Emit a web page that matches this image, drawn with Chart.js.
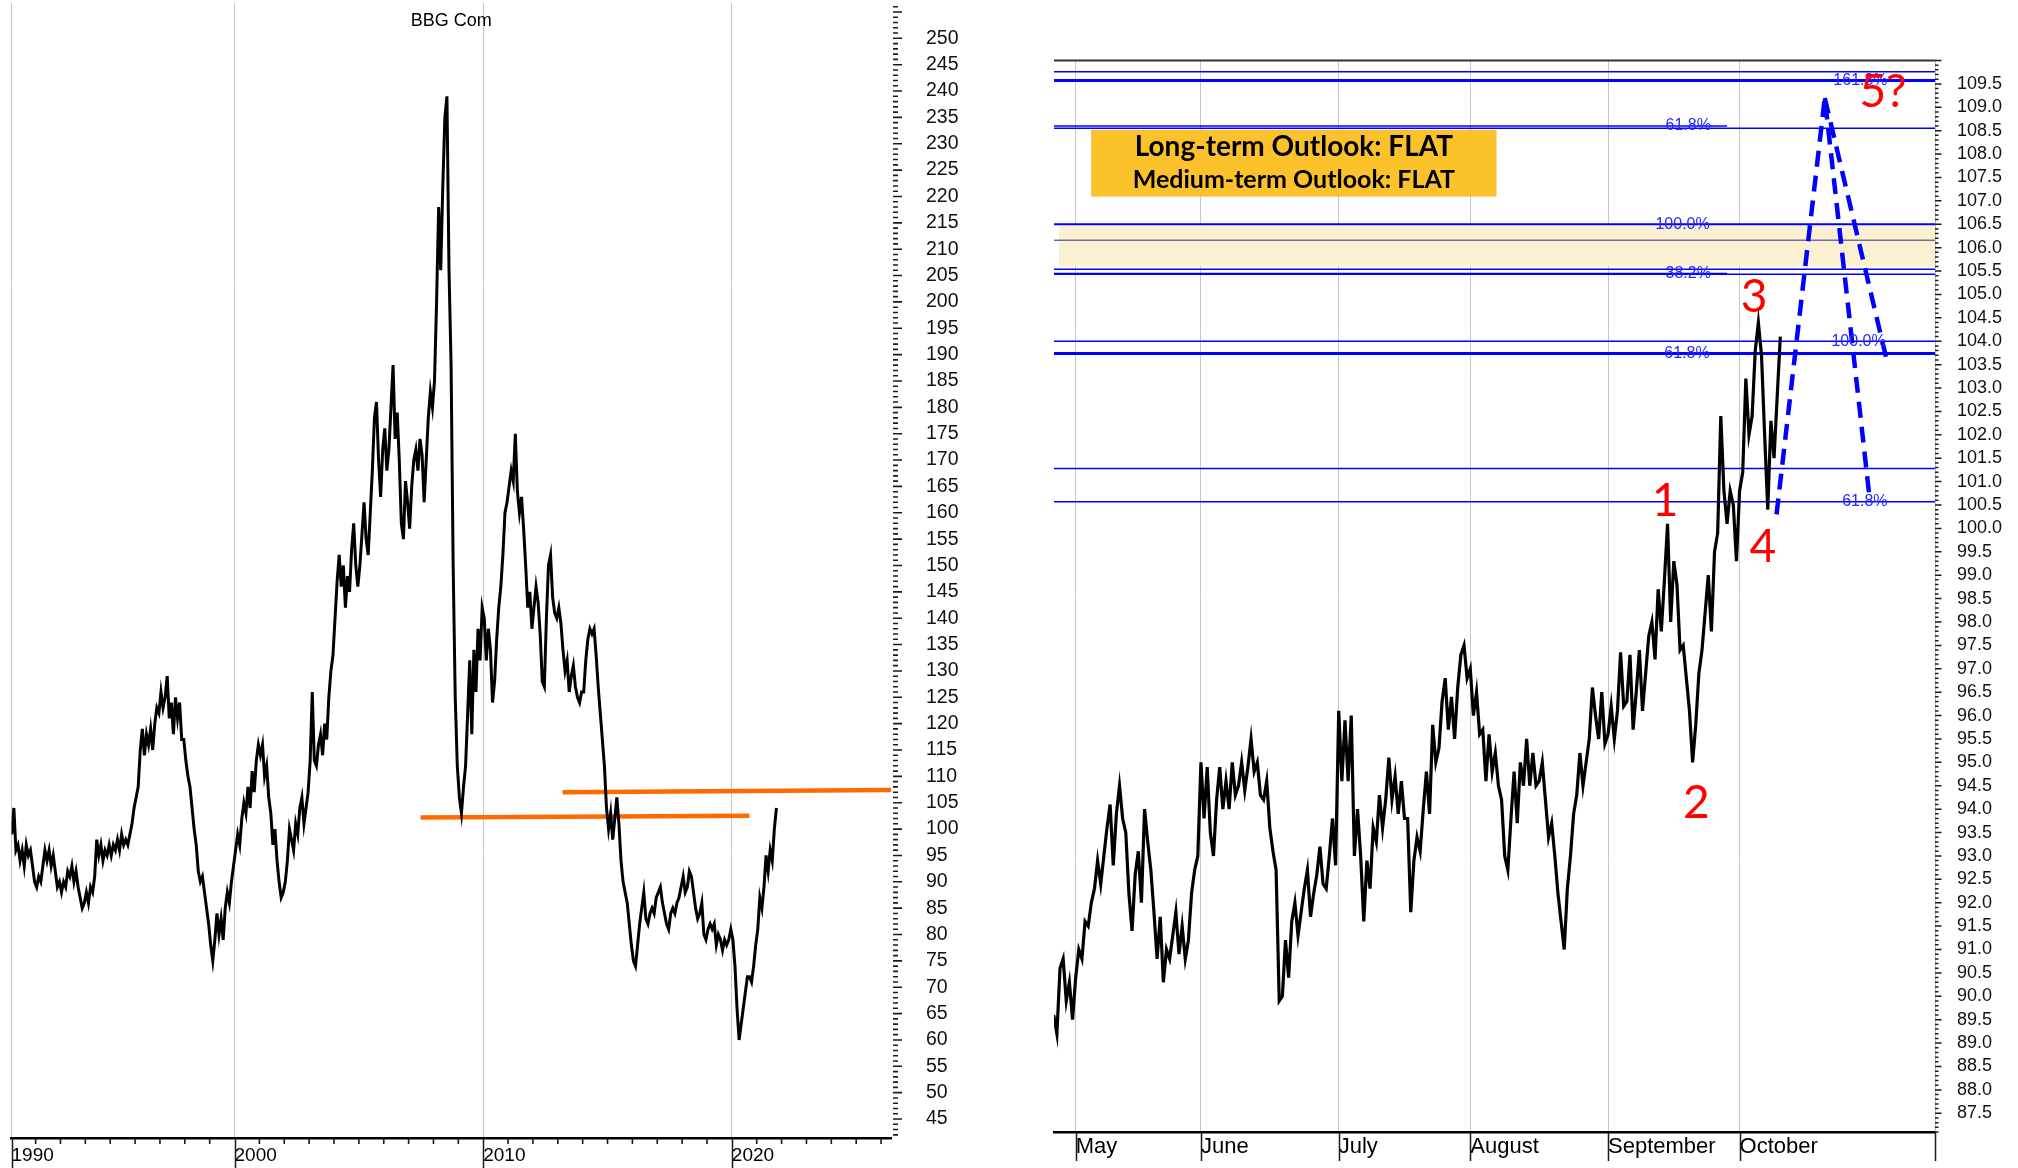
<!DOCTYPE html>
<html>
<head>
<meta charset="utf-8">
<title>BBG Com</title>
<script src="https://cdn.jsdelivr.net/npm/chart.js@4.4.1/dist/chart.umd.min.js"></script>
<style>
  html, body { margin: 0; padding: 0; background: #fff; }
  #wrap { position: relative; width: 2018px; height: 1168px; overflow: hidden; }
  #leftBox { position: absolute; left: 0; top: 0; width: 1000px; height: 1168px; }
  #rightBox { position: absolute; left: 1000px; top: 0; width: 1018px; height: 1168px; }
</style>
</head>
<body>
<div id="wrap">
  <div id="leftBox"><canvas id="longTerm"></canvas></div>
  <div id="rightBox"><canvas id="shortTerm"></canvas></div>
</div>
<script>
// ---------- Long-term panel: BBG Com, monthly closes Jan 1991 – Oct 2021 ----------
const bbg1990s = [
  99, 104, 96, 97, 94, 96, 93, 97, 95, 96, 93, 90,
  89, 91, 90, 93, 96, 94, 96, 93, 95, 92, 89, 90,
  88, 90, 89, 92, 91, 93, 90, 92, 89, 87, 85, 86,
  88, 86, 89, 88, 91, 98, 95, 97, 94, 96, 95, 97,
  95, 97, 96, 98, 96, 99, 97, 98, 97, 99, 101, 104,
  106, 108, 115, 119, 114, 118, 116, 119, 115, 120, 123, 122,
  126, 123, 125, 129, 121, 124, 118, 125, 121, 124, 117, 117,
  113, 110, 108, 104, 100, 97, 92, 90, 91, 88, 85, 82,
  78, 75, 79, 84, 80, 83, 79, 85, 88, 86, 90, 93
];
const bbg2000s = [
  96, 99, 97, 102, 105, 103, 108, 104, 111, 107, 113, 116,
  114, 116, 110, 112, 106, 103, 97, 100, 94, 90, 87, 88,
  90, 94, 100, 98, 96, 101, 99, 104, 106, 101, 104, 107,
  113, 126, 113, 112, 116, 118, 114, 120, 117, 125, 130, 133,
  140, 147, 152, 146, 150, 142, 148, 145, 153, 158, 150, 146,
  150, 156, 162, 155, 152, 160, 168, 178, 181, 170, 163, 172,
  176, 168, 172, 180, 188, 174, 179, 170, 158, 155, 166, 162,
  157, 165, 170, 172, 168, 174, 171, 162, 170, 178, 183, 180,
  185, 200, 218, 206, 222, 235, 239, 206, 188, 150, 125, 112,
  106, 103, 108, 112, 122, 132, 118, 134, 126, 138, 132, 142
];
const bbg2010s = [
  140, 132, 138, 134, 124, 128, 136, 142, 146, 152, 160, 162,
  165, 168, 166, 175, 164, 160, 163, 157, 150, 142, 145, 138,
  142, 146, 143, 137, 128, 127, 140, 150, 152, 144, 141, 140,
  142, 139, 134, 130, 132, 126, 129, 131, 127, 125, 124, 126,
  126, 132, 136, 138, 137, 138, 133, 127, 122, 117, 112, 104,
  100, 103, 98, 102, 106, 101, 94, 90, 88, 86, 82, 78,
  75, 74, 78, 82, 85, 88, 83, 82, 84, 85, 84, 87,
  88, 89, 86, 84, 82, 81, 84, 85, 84, 86, 87, 89,
  91, 88, 89, 92, 91, 88, 85, 83, 84, 86, 80, 79,
  81, 82, 81, 82, 78, 80, 79, 77, 79, 78, 79, 81
];
const bbg2020s = [
  79, 74, 66, 60, 63, 66, 69, 72, 72, 71, 74, 78,
  81, 87, 85, 89, 95, 92, 96, 94, 100, 104
];
const decadeTicks = [2000, 2010, 2020];
const decadeLabels = ['1990', '2000', '2010', '2020'];
// horizontal support / resistance drawn in orange: [year, level]
const supportLine = [[2007.48, 102.2], [2020.71, 102.55]];
const resistanceLine = [[2013.19, 106.97], [2026.4, 107.4]];

// ---------- Short-term panel: two prints per trading session, late April – mid October ----------
const monthLabels = ['May', 'June', 'July', 'August', 'September', 'October'];
const monthStarts = [0, 20, 42, 63, 85, 106]; // session index of each month's first session
const aprTail = [90.5, 89.6, 89.2, 90.6, 90.8, 89.9, 90.3, 89.5];
const mayBars = [
  90.4, 91.0, 90.8, 91.6, 91.5, 92.0, 92.3, 92.9, 92.4, 93.0,
  93.6, 94.1, 92.8, 93.9, 94.5, 93.8, 93.5, 92.2, 91.4, 92.6,
  93.1, 92.0, 94.0, 93.3, 92.7, 91.8, 90.8, 91.7, 90.3, 91.0,
  90.8, 91.3, 91.8, 90.9, 91.5, 90.8, 91.2, 92.2, 92.7, 93.0
];
const junBars = [
  95.0, 93.8, 94.9, 93.5, 93.0, 94.2, 94.9, 94.0, 94.6, 94.0,
  95.0, 94.3, 94.5, 95.0, 94.4, 94.9, 95.5, 94.8, 95.0, 94.3,
  94.2, 94.6, 93.6, 93.1, 92.7, 89.9, 90.0, 91.2, 90.4, 91.6,
  92.0, 91.3, 91.8, 92.3, 92.7, 91.7, 92.2, 92.6, 93.2, 92.4,
  92.3, 93.0, 93.8, 92.8
];
const julBars = [
  96.1, 94.6, 95.9, 94.6, 96.0, 93.0, 94.0, 93.0, 91.6, 92.9,
  92.3, 93.6, 93.3, 94.3, 93.6, 94.2, 95.1, 94.2, 94.7, 93.9,
  94.6, 93.8, 93.8, 91.8, 92.9, 93.4, 93.1, 94.0, 94.8, 93.9,
  95.8, 95.0, 95.3, 96.3, 96.8, 95.7, 96.4, 95.5, 96.6, 97.3,
  97.5, 96.8
];
const augBars = [
  97.0, 96.0, 96.5, 95.6, 95.7, 94.6, 95.6, 94.8, 95.2, 94.5,
  94.2, 93.0, 92.7, 93.8, 94.8, 93.7, 95.0, 94.5, 95.5, 94.5,
  95.2, 94.5, 94.6, 95.0, 94.2, 93.4, 93.7, 93.0, 92.2, 91.6,
  91.0, 92.3, 93.0, 93.9, 94.3, 95.2, 94.5, 95.0, 95.5, 96.6,
  96.0, 95.5, 96.5, 95.4
];
const sepBars = [
  95.6, 96.2, 95.5, 96.1, 97.35, 96.2, 96.3, 97.3, 95.7, 96.5,
  97.4, 96.1, 96.9, 97.7, 98.0, 97.2, 98.7, 97.8, 98.9, 100.1,
  98.0, 99.3, 98.8, 97.4, 97.5, 96.8, 96.1, 95.0, 95.8, 96.9,
  97.4, 98.2, 99.0, 97.8, 99.5, 99.9, 102.4, 100.8, 100.1, 100.8,
  100.5, 99.3
];
const octBars = [
  100.8, 101.2, 103.2, 102.0, 102.4, 103.8, 104.4, 103.7, 102.0, 100.4,
  102.3, 101.5, 102.8, 104.1
];
const firstSession = -4;

// full-width horizontal levels, and retracement levels that stop at the label
const levelLines = [109.76, 109.57, 108.55, 106.50, 106.16, 105.54, 105.43, 104.00, 103.74, 101.28, 100.57];
const levelWidths = [1.5, 3, 1.5, 2, 1.5, 1.5, 1.5, 1.5, 3, 1.5, 1.5];
const retraceLines = [108.60, 105.45];
const fibLabels = ['161.8%', '61.8%', '100.0%', '38.2%', '100.0%', '61.8%', '61.8%'];
const fibLabelLevels = [109.57, 108.60, 106.50, 105.45, 104.00, 103.74, 100.57];
const fibLabelSessions = [125.3, 97.8, 96.9, 97.8, 125.0, 97.6, 126.0];
const targetZone = [105.6, 106.47];
// projected wave-5 path and its alternative
const projSessions = [111.9, 119.6, 126.7];
const projValues = [100.3, 109.2, 100.72];
const altSessions = [119.6, 129.4];
const altValues = [109.2, 103.65];
// wave count
const waveNames = ['1', '2', '3', '4', '5?'];
const waveSessions = [94.1, 99.1, 108.3, 109.7, 128.9];
const waveValues = [100.58, 94.13, 104.94, 99.59, 109.32];
const outlookLines = ['Long-term Outlook: FLAT', 'Medium-term Outlook: FLAT'];

// ---------- helpers ----------
function series(arrays, start, step) {
  const out = [];
  let i = 0;
  arrays.forEach(a => a.forEach(v => { out.push({ x: start + i * step, y: v }); i++; }));
  return out;
}
function seg(p) { return p.map(([x, y]) => ({ x, y })); }
function hline(y, x0, x1) { return [{ x: x0, y }, { x: x1, y }]; }
const SANS = '"Liberation Sans", Arial, sans-serif';

// tick marks on the value axis, minor time ticks and separators below the time axis
const axisMarks = {
  id: 'axisMarks',
  afterDraw(chart, args, o) {
    const { ctx, chartArea: a } = chart;
    const xs = chart.scales.x, ys = chart.scales.y;
    ctx.save();
    ctx.strokeStyle = o.color;
    ctx.lineWidth = o.tickWidth;
    ctx.beginPath();
    const k0 = Math.ceil(ys.min / o.yMinor - 1e-6), k1 = Math.floor(ys.max / o.yMinor + 1e-6);
    for (let k = k0; k <= k1; k++) {
      const py = ys.getPixelForValue(k * o.yMinor);
      const len = (k % o.majorEvery === 0) ? o.majorLen : o.minorLen;
      ctx.moveTo(a.right + o.gap, py);
      ctx.lineTo(a.right + o.gap + len, py);
    }
    ctx.stroke();
    if (o.xMinor) {
      ctx.beginPath();
      for (const v of o.xMinor) {
        const px = xs.getPixelForValue(v);
        ctx.moveTo(px, a.bottom);
        ctx.lineTo(px, a.bottom + o.xMinorLen);
      }
      ctx.stroke();
    }
    ctx.lineWidth = o.sepWidth;
    ctx.beginPath();
    for (const v of o.separators) {
      const px = Math.round(xs.getPixelForValue(v)) + 0.5;
      ctx.moveTo(px, a.bottom);
      ctx.lineTo(px, a.bottom + o.sepLen);
    }
    ctx.stroke();
    ctx.restore();
  }
};

const chartTitle = {
  id: 'chartTitle',
  afterDraw(chart, args, o) {
    const { ctx, chartArea: a } = chart;
    ctx.save();
    ctx.font = o.font;
    ctx.fillStyle = '#000';
    ctx.textAlign = 'center';
    ctx.textBaseline = 'middle';
    ctx.fillText(o.text, (a.left + a.right) / 2, o.y);
    ctx.restore();
  }
};

// ---------- long-term chart ----------
const yearMinor = [];
for (let y = 1992; y <= 2026; y++) if (y % 10 !== 0) yearMinor.push(y);

new Chart(document.getElementById('longTerm'), {
  type: 'line',
  data: {
    datasets: [
      { data: series([bbg1990s, bbg2000s, bbg2010s, bbg2020s], 1991 + 1 / 24, 1 / 12),
        borderColor: '#000', borderWidth: 3, pointRadius: 0, tension: 0, order: 0 },
      { data: seg(supportLine), borderColor: '#ff6a00', borderWidth: 4.5, pointRadius: 0, order: 1 },
      { data: seg(resistanceLine), borderColor: '#ff6a00', borderWidth: 4.5, pointRadius: 0, order: 1 }
    ]
  },
  options: {
    responsive: true, maintainAspectRatio: false, animation: false, devicePixelRatio: 1,
    layout: { padding: { left: 11.5, top: 3, right: 0, bottom: 0 } },
    plugins: {
      legend: { display: false }, tooltip: { enabled: false },
      axisMarks: { color: '#1a1a1a', tickWidth: 1.6, yMinor: 1, majorEvery: 5, minorLen: 5, majorLen: 9, gap: 2,
                   xMinor: yearMinor, xMinorLen: 6, separators: [1991.03, ...decadeTicks], sepLen: 40, sepWidth: 1.5 },
      chartTitle: { text: 'BBG Com', font: '18px ' + SANS, y: 21 }
    },
    scales: {
      x: {
        type: 'linear', min: 1991.03, max: 2026.4,
        afterBuildTicks: s => { s.ticks = [1991.03, ...decadeTicks].map(v => ({ value: v })); },
        afterFit: s => { s.height = 30; s.paddingLeft = 0; s.paddingRight = 0; },
        grid: { color: '#c8c8c8', lineWidth: 1, drawTicks: false },
        border: { display: true, color: '#000', width: 2.5 },
        ticks: { autoSkip: false, maxRotation: 0, align: 'start', padding: 6, color: '#000',
                 font: { family: SANS, size: 19 },
                 callback: (v, i) => decadeLabels[i] }
      },
      y: {
        position: 'right', min: 41.4, max: 256.7,
        afterBuildTicks: s => { const t = []; for (let v = 45; v <= 250; v += 5) t.push({ value: v }); s.ticks = t; },
        afterFit: s => { s.width = 109; s.paddingTop = 0; s.paddingBottom = 0; },
        grid: { display: false, drawTicks: false },
        border: { display: false },
        ticks: { autoSkip: false, padding: 35, color: '#111', font: { family: SANS, size: 19.5 }, callback: v => String(v) }
      }
    }
  },
  plugins: [axisMarks, chartTitle]
});

// ---------- short-term chart ----------
const X0 = -3.46, X1 = 137.2;
const fibDatasets = [];
levelLines.forEach((lv, i) => fibDatasets.push({
  data: hline(lv, X0, X1), borderColor: lv === 106.16 ? '#6e6e9e' : '#0000ff',
  borderWidth: levelWidths[i], pointRadius: 0, order: 3
}));
retraceLines.forEach(lv => fibDatasets.push({
  data: hline(lv, X0, 104), borderColor: '#0000ff', borderWidth: 1.5, pointRadius: 0, order: 3
}));

const shortAnnotations = {
  id: 'shortAnnotations',
  beforeDatasetsDraw(chart) {
    const { ctx } = chart;
    const xs = chart.scales.x, ys = chart.scales.y;
    const l = xs.getPixelForValue(2.47), r = xs.getPixelForValue(67.2);
    const t = ys.getPixelForValue(108.52), b = ys.getPixelForValue(107.09);
    ctx.save();
    ctx.fillStyle = '#fcc22c';
    ctx.fillRect(l, t, r - l, b - t);
    ctx.fillStyle = '#000';
    ctx.textAlign = 'center';
    ctx.textBaseline = 'alphabetic';
    const cx = (l + r) / 2;
    ctx.font = 'bold 28px Lato, sans-serif';
    ctx.fillText(outlookLines[0], cx, ys.getPixelForValue(107.96));
    ctx.font = 'bold 25px Lato, sans-serif';
    ctx.fillText(outlookLines[1], cx, ys.getPixelForValue(107.27));
    ctx.restore();
  },
  afterDatasetsDraw(chart) {
    const { ctx, chartArea: a } = chart;
    const xs = chart.scales.x, ys = chart.scales.y;
    ctx.save();
    // frame line along the top of the plot
    ctx.strokeStyle = '#333';
    ctx.lineWidth = 2;
    ctx.beginPath();
    ctx.moveTo(a.left, a.top); ctx.lineTo(a.right, a.top);
    ctx.stroke();
    // retracement / extension labels
    ctx.font = '16px ' + SANS;
    ctx.fillStyle = '#2626ff';
    ctx.textAlign = 'center';
    ctx.textBaseline = 'middle';
    fibLabels.forEach((txt, i) => {
      ctx.fillText(txt, xs.getPixelForValue(fibLabelSessions[i]), ys.getPixelForValue(fibLabelLevels[i]));
    });
    // wave count
    ctx.font = '46px Lato, sans-serif';
    ctx.fillStyle = '#ff0000';
    waveNames.forEach((txt, i) => {
      ctx.fillText(txt, xs.getPixelForValue(waveSessions[i]), ys.getPixelForValue(waveValues[i]));
    });
    ctx.restore();
  }
};

new Chart(document.getElementById('shortTerm'), {
  type: 'line',
  data: {
    datasets: [
      { data: series([aprTail, mayBars, junBars, julBars, augBars, sepBars, octBars], firstSession, 0.5),
        borderColor: '#000', borderWidth: 3.2, pointRadius: 0, tension: 0, order: 0 },
      { data: projSessions.map((x, i) => ({ x, y: projValues[i] })),
        borderColor: '#0000ff', borderWidth: 4.5, borderDash: [16, 9], pointRadius: 0, order: 1 },
      { data: altSessions.map((x, i) => ({ x, y: altValues[i] })),
        borderColor: '#0000ff', borderWidth: 4.5, borderDash: [16, 9], pointRadius: 0, order: 1 },
      ...fibDatasets,
      { data: hline(targetZone[1], -2.67, X1), borderColor: 'rgba(0,0,0,0)', borderWidth: 0, pointRadius: 0, order: 9 },
      { data: hline(targetZone[0], -2.67, X1), borderColor: 'rgba(0,0,0,0)', borderWidth: 0, pointRadius: 0,
        fill: '-1', backgroundColor: '#fcf0d2', order: 9 }
    ]
  },
  options: {
    responsive: true, maintainAspectRatio: false, animation: false, devicePixelRatio: 1,
    layout: { padding: { left: 54, top: 60.5, right: 0, bottom: 0 } },
    plugins: {
      legend: { display: false }, tooltip: { enabled: false },
      axisMarks: { color: '#1a1a1a', tickWidth: 1.5, yMinor: 0.1, majorEvery: 5, minorLen: 3.5, majorLen: 6.5, gap: 0,
                   separators: [...monthStarts, X1], sepLen: 29, sepWidth: 1.5 }
    },
    scales: {
      x: {
        type: 'linear', min: X0, max: X1,
        afterBuildTicks: s => { s.ticks = monthStarts.map(v => ({ value: v })); },
        afterFit: s => { s.height = 36; s.paddingLeft = 0; s.paddingRight = 0; },
        grid: { color: '#c8c8c8', lineWidth: 1, drawTicks: false },
        border: { display: true, color: '#000', width: 2.5 },
        ticks: { autoSkip: false, maxRotation: 0, align: 'start', padding: 2, color: '#000',
                 font: { family: SANS, size: 22 },
                 callback: (v, i) => monthLabels[i] }
      },
      y: {
        position: 'right', min: 87.1, max: 110.0,
        afterBuildTicks: s => { const t = []; for (let k = 175; k <= 219; k++) t.push({ value: k / 2 }); s.ticks = t; },
        afterFit: s => { s.width = 83; s.paddingTop = 0; s.paddingBottom = 0; },
        grid: { display: false, drawTicks: false },
        border: { display: true, color: '#bdbdbd', width: 1 },
        ticks: { autoSkip: false, padding: 22, color: '#111', font: { family: SANS, size: 18 }, callback: v => v.toFixed(1) }
      }
    }
  },
  plugins: [axisMarks, shortAnnotations]
});
</script>
</body>
</html>
